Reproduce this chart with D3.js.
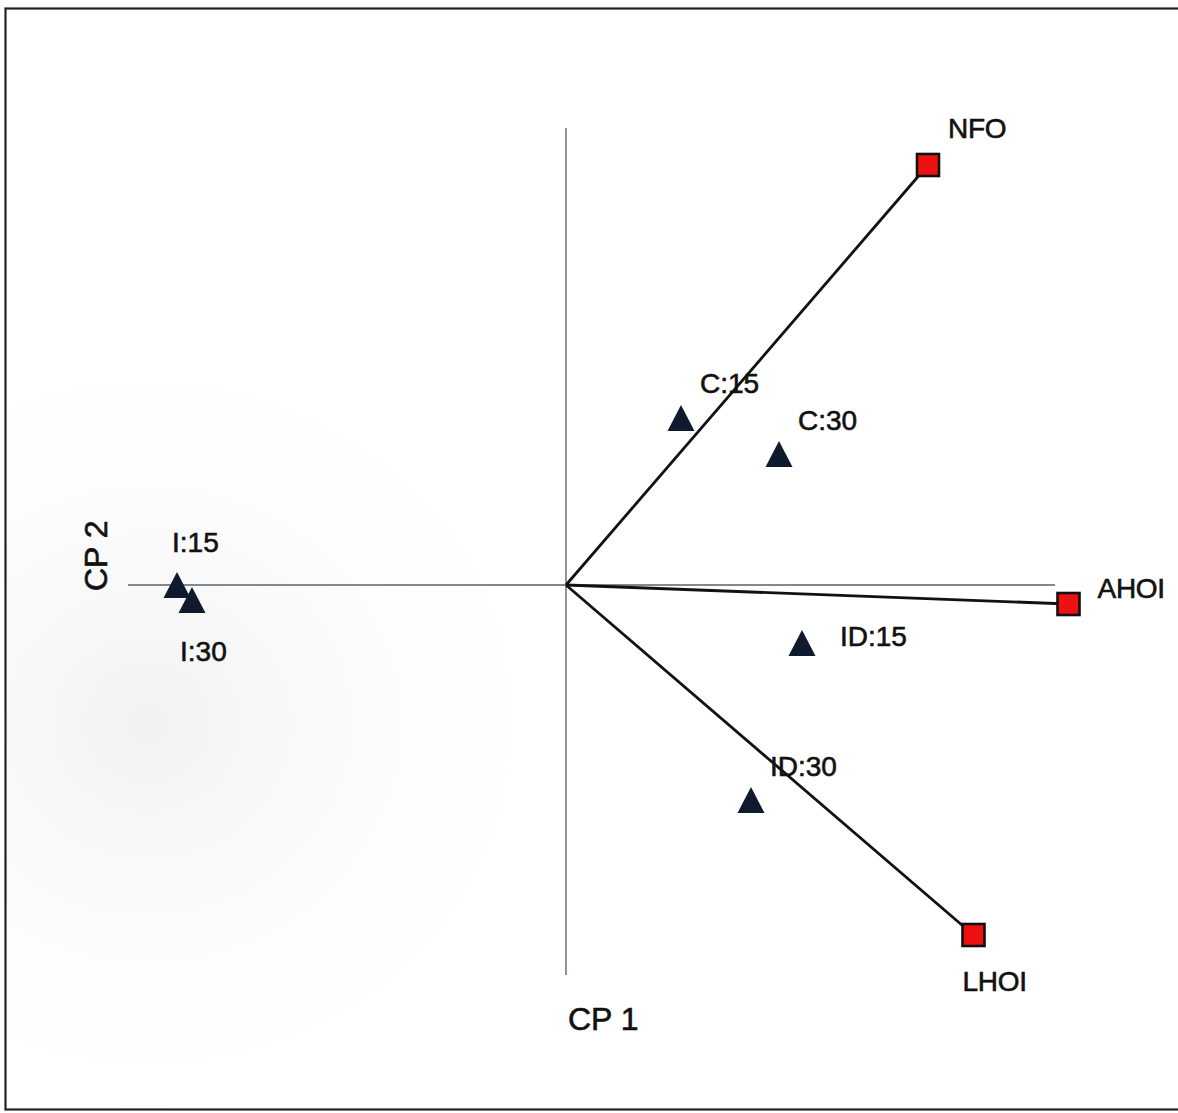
<!DOCTYPE html>
<html>
<head>
<meta charset="utf-8">
<script src="https://cdn.jsdelivr.net/npm/d3@7"></script>
<style>
  html, body { margin: 0; padding: 0; background: #fff; }
  svg { display: block; }
  text { font-family: "Liberation Sans", Arial, sans-serif; fill: #111; stroke: #111; stroke-width: 0.6; }
</style>
</head>
<body>
<svg id="chart" width="1178" height="1113"></svg>
<script>
// Variable loadings (red squares, joined to the origin)
const variableNames = ["NFO", "AHOI", "LHOI"];
const variableCP1 = [1.448, 2.010, 1.630];
const variableCP2 = [1.680, -0.076, -1.400];

// Treatment scores (dark triangles)
const treatmentNames = ["C:15", "C:30", "ID:15", "ID:30", "I:15", "I:30"];
const treatmentCP1 = [0.460, 0.852, 0.944, 0.740, -1.556, -1.496];
const treatmentCP2 = [0.668, 0.524, -0.232, -0.860, 0.000, -0.060];

const axisTitles = ["CP 1", "CP 2"];

const svg = d3.select("#chart");

// Very faint grey shading in the lower-left part of the sheet
const defs = svg.append("defs");
const grad = defs.append("radialGradient")
  .attr("id", "shade").attr("cx", 0.12).attr("cy", 0.65).attr("r", 0.4);
grad.append("stop").attr("offset", 0).attr("stop-color", "#f1f1f3").attr("stop-opacity", 1);
grad.append("stop").attr("offset", 1).attr("stop-color", "#ffffff").attr("stop-opacity", 0);

// Outer frame
svg.append("rect")
  .attr("x", 5.5).attr("y", 8.5)
  .attr("width", 1185).attr("height", 1101)
  .attr("fill", "#fff")
  .attr("stroke", "#222").attr("stroke-width", 2.2);
svg.append("rect")
  .attr("x", 7).attr("y", 10)
  .attr("width", 1170).attr("height", 1098)
  .attr("fill", "url(#shade)");

// Same scale factor on both axes, origin in the middle of the plot
const x = d3.scaleLinear().domain([-1.752, 1.956]).range([128, 1055]);
const y = d3.scaleLinear().domain([-1.560, 1.828]).range([975, 128]);

// Reference axes through the origin
const g = svg.append("g");
g.append("line")
  .attr("x1", x(-1.752)).attr("x2", x(1.956))
  .attr("y1", y(0)).attr("y2", y(0))
  .attr("stroke", "#7f8992").attr("stroke-width", 1.8);
g.append("line")
  .attr("x1", x(0)).attr("x2", x(0))
  .attr("y1", y(1.828)).attr("y2", y(-1.560))
  .attr("stroke", "#7f8992").attr("stroke-width", 1.8);

const variables = variableNames.map((n, i) => ({ name: n, cp1: variableCP1[i], cp2: variableCP2[i] }));
const treatments = treatmentNames.map((n, i) => ({ name: n, cp1: treatmentCP1[i], cp2: treatmentCP2[i] }));

// Loading vectors
g.selectAll("line.vec").data(variables).join("line")
  .attr("class", "vec")
  .attr("x1", x(0)).attr("y1", y(0))
  .attr("x2", d => x(d.cp1)).attr("y2", d => y(d.cp2))
  .attr("stroke", "#111").attr("stroke-width", 2.8);

// Square markers at vector tips
const sq = 22;
g.selectAll("rect.var").data(variables).join("rect")
  .attr("class", "var")
  .attr("x", d => x(d.cp1) - sq / 2).attr("y", d => y(d.cp2) - sq / 2)
  .attr("width", sq).attr("height", sq)
  .attr("fill", "#ee1111").attr("stroke", "#111").attr("stroke-width", 2.6);

// Triangle markers for treatments, centred on their bounding box
const tw = 27, th = 26;
const triPath = `M0,${-th / 2}L${tw / 2},${th / 2}L${-tw / 2},${th / 2}Z`;
g.selectAll("path.trt").data(treatments).join("path")
  .attr("class", "trt")
  .attr("transform", d => `translate(${x(d.cp1)},${y(d.cp2)})`)
  .attr("d", triPath)
  .attr("fill", "#0f1a2c");

// Label offsets (dx, dy from marker centre to text baseline start)
const varLabelOffset = { "NFO": [20, -27], "AHOI": [29, -6], "LHOI": [-11, 56] };
const trtLabelOffset = {
  "C:15": [19, -25], "C:30": [19, -24], "ID:15": [38, 3],
  "ID:30": [19, -24], "I:15": [-5, -33], "I:30": [-12, 61]
};

g.selectAll("text.varlab").data(variables).join("text")
  .attr("class", "varlab")
  .attr("x", d => x(d.cp1) + varLabelOffset[d.name][0])
  .attr("y", d => y(d.cp2) + varLabelOffset[d.name][1])
  .attr("font-size", 28)
  .attr("letter-spacing", -0.3)
  .text(d => d.name);

g.selectAll("text.trtlab").data(treatments).join("text")
  .attr("class", "trtlab")
  .attr("x", d => x(d.cp1) + trtLabelOffset[d.name][0])
  .attr("y", d => y(d.cp2) + trtLabelOffset[d.name][1])
  .attr("font-size", 28)
  .text(d => d.name);

// Axis titles
svg.append("text")
  .attr("x", 568).attr("y", 1030)
  .attr("font-size", 32)
  .text(axisTitles[0]);
svg.append("text")
  .attr("transform", "translate(107,591) rotate(-90)")
  .attr("font-size", 32)
  .text(axisTitles[1]);
</script>
</body>
</html>
